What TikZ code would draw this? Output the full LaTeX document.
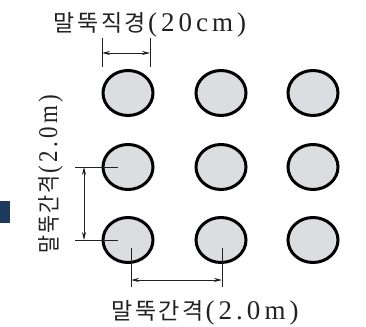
\documentclass[tikz,border=0pt]{standalone}
\usepackage{fontspec}
\usetikzlibrary{arrows.meta,shapes.geometric}
\newfontfamily\krfont[LetterSpace=11]{Noto Sans CJK KR}
\newfontfamily\latfont[LetterSpace=15]{Liberation Serif}
\definecolor{pilefill}{HTML}{DCDDE0}
\definecolor{barblue}{HTML}{1D3B5E}
\definecolor{inkgray}{HTML}{222222}
\tikzset{
  pile/.style={ellipse, draw=black, line width=3pt, fill=pilefill,
    minimum width=50pt, minimum height=45pt, inner sep=0pt},
  dimline/.style={draw=inkgray, line width=0.8pt, {Stealth[length=8pt,width=4pt]}-{Stealth[length=8pt,width=4pt]}},
  tick/.style={draw=inkgray, line width=0.8pt},
  lbl/.style={inner sep=0pt, anchor=base, text=inkgray}
}
\newcommand{\krpart}[1]{{\fontsize{23}{25}\krfont #1}}
\newcommand{\latpart}[1]{{\fontsize{27}{29}\latfont #1}}
\begin{document}
\begin{tikzpicture}[x=1pt,y=-1pt]
\useasboundingbox (0,0) rectangle (366,326);
\fill[white] (0,0) rectangle (366,326);
% left bar
\fill[barblue] (0,201) rectangle (10,223);
% piles
\node[pile] (c11) at (128,93) {};
\node[pile] (c12) at (221,93) {};
\node[pile] (c13) at (313,93) {};
\node[pile] (c21) at (128,167) {};
\node[pile] (c22) at (221,167) {};
\node[pile] (c23) at (313,167) {};
\node[pile] (c31) at (128,240) {};
\node[pile] (c32) at (221,240) {};
\node[pile] (c33) at (313,240) {};
% top dimension (diameter)
\coordinate (ta1) at (102,38); \coordinate (tb1) at (102,67);
\coordinate (ta2) at (150,38); \coordinate (tb2) at (150,67);
\coordinate (da1) at (102,53); \coordinate (da2) at (150,53);
\draw[tick] (ta1) -- (tb1);
\draw[tick] (ta2) -- (tb2);
\draw[dimline] (da1) -- (da2);
% left dimension (vertical spacing)
\coordinate (la1) at (75,167); \coordinate (lb1) at (118,167);
\coordinate (la2) at (75,240); \coordinate (lb2) at (118,240);
\coordinate (lv1) at (84,167); \coordinate (lv2) at (84,240);
\draw[tick] (la1) -- (lb1);
\draw[tick] (la2) -- (lb2);
\draw[dimline] (lv1) -- (lv2);
% bottom dimension (horizontal spacing)
\coordinate (ba1) at (131,248); \coordinate (bb1) at (131,287);
\coordinate (ba2) at (222,248); \coordinate (bb2) at (222,287);
\coordinate (bh1) at (131,280); \coordinate (bh2) at (222,280);
\draw[tick] (ba1) -- (bb1);
\draw[tick] (ba2) -- (bb2);
\draw[dimline] (bh1) -- (bh2);
% labels
\node[lbl] (ttop) at (150,32) {\krpart{말뚝직경}\hspace{2pt}\latpart{(20cm)}};
\node[lbl] (tbot) at (205,319) {\krpart{말뚝간격}\hspace{2pt}\latpart{(2.0m)}};
\node[lbl, rotate=90] (tleft) at (57,174) {\scalebox{0.85}[1]{\krpart{말뚝간격}\hspace{2pt}\latpart{(2.0m)}}};
\end{tikzpicture}
\end{document}
